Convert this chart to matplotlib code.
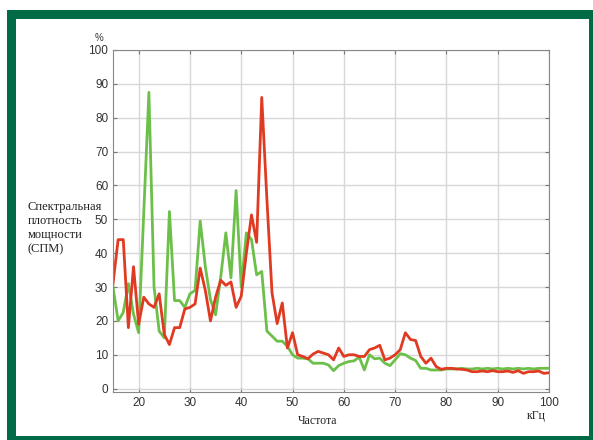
import matplotlib
matplotlib.use('Agg')
import matplotlib.pyplot as plt
from matplotlib.patches import Rectangle

# Частота, кГц
freq = list(range(15, 101))

# СПМ, % (красная кривая)
red = [31, 44, 44, 18, 36, 19, 27, 25, 24, 28, 16, 13, 18, 18, 23.5, 24,
       25, 35.6, 29, 20, 27, 32, 30.5, 31.5, 24, 27.3, 40, 51.3, 43.2, 86,
       56, 28.3, 19.2, 25.3, 12, 16.5, 10, 9.5, 8.8, 10.2, 11, 10.5, 10,
       8.5, 12, 9.5, 10, 10, 9.5, 9.5, 11.5, 12, 12.8, 8.5, 9, 10, 11.5, 16.5,
       14.5, 14.2, 9.5, 7.5, 9, 6.5, 5.7, 6, 6, 5.8, 5.7, 5.5, 5, 5, 5.2, 5,
       5.3, 5, 5, 5.2, 4.8, 5.3, 4.5, 5, 5, 5.2, 4.5, 4.7]

# СПМ, % (зелёная кривая)
green = [30, 20, 22.5, 31, 22, 16.5, 52, 87.5, 30, 17, 15, 52.3, 26, 26,
         24, 28, 29, 49.5, 36, 26.3, 21.8, 33, 46, 32.7, 58.5, 30, 46, 44,
         33.6, 34.6, 17, 15.5, 14, 14, 12.5, 10, 9, 9, 8.8, 7.5, 7.5, 7.5, 7,
         5.3, 6.8, 7.5, 8, 8.2, 9.3, 5.5, 10, 8.8, 9, 7.5, 6.8, 8.5, 10.3, 10,
         9, 8.3, 6, 6, 5.5, 5.5, 5.5, 5.8, 5.8, 5.8, 6, 5.8, 5.8, 6, 5.8, 6,
         5.8, 6, 5.8, 6, 5.8, 6, 5.8, 6, 5.8, 6, 6, 6]

ylabel_lines = ['Спектральная', 'плотность', 'мощности', '(СПМ)']
xticks = list(range(20, 101, 10))
yticks = list(range(0, 101, 10))

W, H = 593, 440
fig = plt.figure(figsize=(W / 100, H / 100), dpi=100)
fig.patch.set_facecolor('white')

# зелёная рамка
fig.patches.append(Rectangle((11 / W, 0), (593 - 11) / W, 1 - 14 / H,
                             transform=fig.transFigure, fill=False,
                             edgecolor='#006b45', linewidth=9 * 0.72,
                             zorder=10))

ax = fig.add_axes([113 / W, 1 - 392 / H, (549 - 113) / W, (392 - 50) / H])
ax.plot(freq, green, color='#6cc04a', linewidth=2.0)
ax.plot(freq, red, color='#e03a22', linewidth=2.0)

ax.set_xlim(15, 100)
ax.set_ylim(-1, 100)
ax.set_xticks(xticks)
ax.set_yticks(yticks)
ax.grid(True, color='#d8d8d8', linewidth=1.0)
ax.set_axisbelow(True)
ax.tick_params(direction='in', top=True, right=True, length=3,
               color='#777777', labelsize=8.5, labelcolor='#333333',
               labeltop=False, labelright=False)
for lbl in ax.get_xticklabels() + ax.get_yticklabels():
    lbl.set_fontfamily('Liberation Sans')
for s in ax.spines.values():
    s.set_color('#888888')
    s.set_linewidth(0.8)

serif = 'Liberation Serif'
fig.text(95 / W, 1 - 38 / H, '%', fontsize=7, family='Liberation Sans',
         color='#333333', ha='left', va='center')
# подпись оси Y построчно
for i, line in enumerate(ylabel_lines):
    fig.text(28 / W, 1 - (207 + 14 * i) / H, line, fontsize=9, family=serif,
             color='#222222', ha='left', va='center')
fig.text(318 / W, 1 - 421 / H, 'Частота', fontsize=8.5, family=serif,
         color='#222222', ha='center', va='center')
fig.text(536 / W, 1 - 416 / H, 'кГц', fontsize=8.5, family=serif,
         color='#222222', ha='center', va='center')

fig.savefig('out.png', dpi=100)
